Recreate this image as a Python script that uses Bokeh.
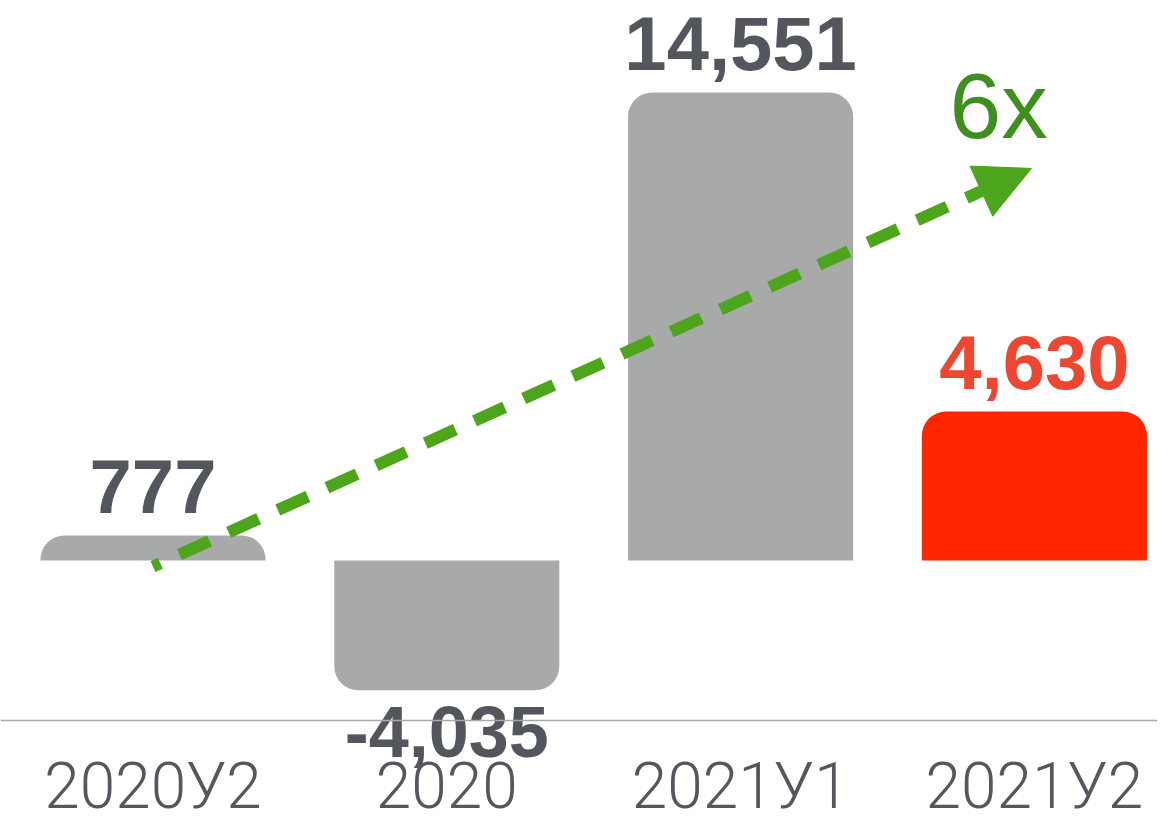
from bokeh.plotting import figure
from bokeh.models import ColumnDataSource, Range1d, Span, Arrow, NormalHead, LabelSet, Label
from bokeh.core.properties import value
from bokeh.embed import file_html
from bokeh.resources import INLINE

# ---- data ----
categories = ["2020У2", "2020", "2021У1", "2021У2"]
values = [777, -4035, 14551, 4630]
value_labels = ["777", "-4,035", "14,551", "4,630"]
bar_colors = ["#a7aaa9", "#a7aaa9", "#a7aaa9", "#ff2600"]
label_colors = ["#53575d", "#53575d", "#53575d", "#ee4630"]
growth_label = "6x"
arrow_from = (0.0, -190)
arrow_to = (2.99, 12190)

# ---- layout helpers ----
W, H = 1157, 823
SPACING = 293.8          # px between bar centres
FIRST_CENTER = 152.5     # px of first bar centre
BASE_PY = 560            # px of zero line from top
SCALE = 468 / 14551      # px per unit

x_start = -FIRST_CENTER / SPACING
x_end = (W - FIRST_CENTER) / SPACING
y_start = -(H - BASE_PY) / SCALE
y_end = BASE_PY / SCALE

p = figure(width=W, height=H, output_backend="svg", toolbar_location=None,
           x_range=Range1d(x_start, x_end), y_range=Range1d(y_start, y_end),
           x_axis_type=None, y_axis_type=None, min_border=0)
p.grid.visible = False
p.outline_line_color = None
p.background_fill_color = "white"
p.border_fill_color = "white"

xs = list(range(len(categories)))
pos = [i for i, v in enumerate(values) if v >= 0]
neg = [i for i, v in enumerate(values) if v < 0]

def src(idx):
    return ColumnDataSource(dict(
        x=[xs[i] for i in idx],
        top=[values[i] for i in idx],
        color=[bar_colors[i] for i in idx],
        lab=[value_labels[i] for i in idx],
        lc=[label_colors[i] for i in idx],
    ))

pos_src = src(pos)
neg_src = src(neg)

p.vbar(x="x", top="top", bottom=0, width=0.766, fill_color="color", line_color=None,
       border_radius=(24, 24, 0, 0), source=pos_src)
p.vbar(x="x", top=0, bottom="top", width=0.766, fill_color="color", line_color=None,
       border_radius=(0, 0, 24, 24), source=neg_src)

font_b = "Liberation Sans"
p.add_layout(LabelSet(x="x", y="top", text="lab", source=pos_src, y_offset=23,
                      text_align="center", text_baseline="alphabetic",
                      text_font=value(font_b), text_font_style="bold",
                      text_font_size="76px", text_color="lc"))
p.add_layout(LabelSet(x="x", y="top", text="lab", source=neg_src, y_offset=-67,
                      text_align="center", text_baseline="alphabetic",
                      text_font=value(font_b), text_font_style="bold",
                      text_font_size="72px", text_color="lc"))

# baseline rule under the chart
p.add_layout(Span(location=-(720 - BASE_PY) / SCALE, dimension="width",
                  line_color="#a9a9a9", line_width=1.5))

# category labels
cat_src = ColumnDataSource(dict(x=xs, y=[-(807 - BASE_PY) / SCALE] * len(xs), t=categories))
p.add_layout(LabelSet(x="x", y="y", text="t", source=cat_src, text_align="center",
                      text_baseline="alphabetic", text_font=value("Roboto Light"),
                      text_font_size="64px", text_color="#54585e"))

# growth arrow
green = "#4ca51a"
p.add_layout(Arrow(x_start=arrow_from[0], y_start=arrow_from[1],
                   x_end=arrow_to[0], y_end=arrow_to[1],
                   line_color=green, line_width=12, line_dash="33 21", line_dash_offset=25,
                   end=NormalHead(size=55, fill_color=green, line_color=green, line_width=1)))
p.add_layout(Label(x=2.878, y=(560 - 105) / SCALE, text=growth_label, text_align="center",
                   text_baseline="alphabetic", text_font=font_b,
                   text_font_size="93px", text_color="#3f8f1e"))

open("out.html", "w").write(file_html(p, INLINE))
